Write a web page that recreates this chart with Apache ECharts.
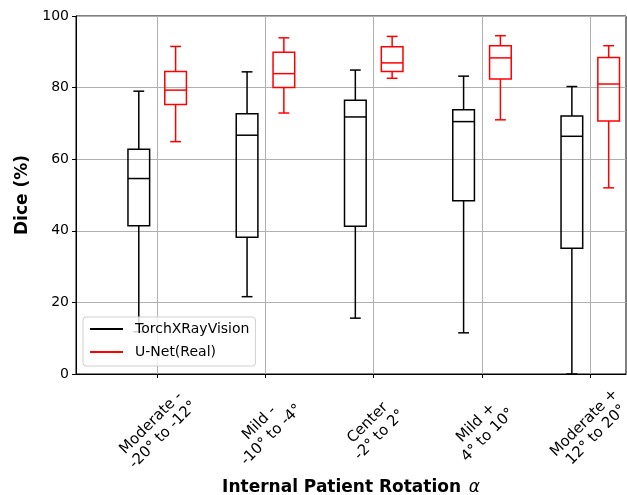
<!DOCTYPE html>
<html><head><meta charset="utf-8">
<script src="https://cdn.jsdelivr.net/npm/echarts@6/dist/echarts.min.js"></script>
<style>html,body{margin:0;padding:0;background:#fff}#c{width:627px;height:495px}</style>
</head><body><div id="c"></div>
<script>
const categories = ['Moderate -\n-20° to -12°', 'Mild -\n-10° to -4°', 'Center\n-2° to 2°', 'Mild +\n4° to 10°', 'Moderate +\n12° to 20°'];
// each row: [min, q1, median, q3, max]
const torchXRayVision = [
  [11.8, 41.4, 54.6, 62.8, 79.0],
  [21.6, 38.2, 66.7, 72.7, 84.4],
  [15.6, 41.3, 71.8, 76.5, 84.9],
  [11.5, 48.4, 70.5, 73.8, 83.2],
  [0.0, 35.1, 66.4, 72.1, 80.3]
];
const unetReal = [
  [64.9, 75.3, 79.3, 84.5, 91.5],
  [72.9, 80.0, 83.9, 89.9, 93.9],
  [82.6, 84.5, 86.9, 91.4, 94.3],
  [71.0, 82.4, 88.3, 91.7, 94.5],
  [52.0, 70.7, 81.0, 88.4, 91.7]
];
const yTicks = [0, 20, 40, 60, 80, 100];
const seriesNames = ['TorchXRayVision', 'U-Net(Real)'];

const FONT = 'DejaVu Sans';
const catIdx = categories.map((c, i) => i);

function makeRender(offset, color) {
  return function (params, api) {
    const x = api.value(0) + offset;
    const mn = api.value(1), q1 = api.value(2), md = api.value(3), q3 = api.value(4), mx = api.value(5);
    const p = (xx, yy) => api.coord([xx, yy]);
    const hw = 0.1, cw = 0.05;
    const style = { stroke: color, lineWidth: 1.5, fill: null };
    const l = (a, b) => ({ type: 'line', shape: { x1: a[0], y1: a[1], x2: b[0], y2: b[1] }, style: style });
    const tl = p(x - hw, q3), br = p(x + hw, q1);
    return {
      type: 'group', children: [
        l(p(x, q1), p(x, mn)), l(p(x, q3), p(x, mx)),
        l(p(x - cw, mn), p(x + cw, mn)), l(p(x - cw, mx), p(x + cw, mx)),
        { type: 'rect', shape: { x: tl[0], y: tl[1], width: br[0] - tl[0], height: br[1] - tl[1] }, style: { stroke: color, lineWidth: 1.5, fill: null } },
        l(p(x - hw, md), p(x + hw, md))
      ]
    };
  };
}

const chart = echarts.init(document.getElementById('c'), null, { renderer: 'canvas' });
chart.setOption({
  animation: false,
  backgroundColor: '#fff',
  textStyle: { fontFamily: FONT },
  grid: { left: 76, right: 1, top: 16, bottom: 121, show: true, borderColor: '#000', borderWidth: 1, containLabel: false, outerBoundsMode: 'none' },
  legend: {
    data: seriesNames,
    orient: 'vertical',
    left: 83, top: 317,
    icon: 'rect', itemWidth: 33, itemHeight: 2, itemGap: 7,
    padding: [4, 6, 6, 7],
    backgroundColor: 'rgba(255,255,255,0.8)',
    borderColor: '#d0d0d0', borderWidth: 1, borderRadius: 3,
    textStyle: { fontFamily: FONT, fontSize: 14, color: '#000', lineHeight: 16, padding: [0, 0, 0, 7] }
  },
  xAxis: {
    type: 'value', min: -0.75, max: 4.33,
    axisLine: { show: true, onZero: false, lineStyle: { color: '#000', width: 1 } },
    axisTick: { show: true, customValues: catIdx, length: 4, lineStyle: { color: '#000' } },
    axisLabel: {
      customValues: catIdx,
      formatter: v => categories[Math.round(v)],
      rotate: 45, align: 'center', verticalAlign: 'middle', margin: 55,
      fontFamily: FONT, fontSize: 15, lineHeight: 17, color: '#000'
    },
    splitLine: { show: true, lineStyle: { color: '#b0b0b0', width: 1 } },
    name: '{b|Internal Patient Rotation}  {a|α}',
    nameLocation: 'middle', nameGap: 105,
    nameTextStyle: {
      rich: {
        b: { fontFamily: FONT, fontWeight: 'bold', fontSize: 17, color: '#000' },
        a: { fontFamily: FONT, fontStyle: 'italic', fontSize: 17, color: '#000' }
      }
    }
  },
  yAxis: {
    type: 'value', min: yTicks[0], max: yTicks[yTicks.length - 1], interval: yTicks[1] - yTicks[0],
    axisLine: { show: true, onZero: false, lineStyle: { color: '#000', width: 1 } },
    axisTick: { show: true, length: 4, lineStyle: { color: '#000' } },
    axisLabel: { fontFamily: FONT, fontSize: 14, color: '#000', margin: 7 },
    splitLine: { show: true, lineStyle: { color: '#b0b0b0', width: 1 } },
    name: 'Dice (%)', nameLocation: 'middle', nameGap: 45,
    nameTextStyle: { fontFamily: FONT, fontWeight: 'bold', fontSize: 17, color: '#000' }
  },
  series: [
    {
      name: seriesNames[0], type: 'custom', itemStyle: { color: '#000' },
      renderItem: makeRender(-0.17, '#000'),
      encode: { x: 0, y: [1, 2, 3, 4, 5] },
      data: torchXRayVision.map((d, i) => [i].concat(d)), z: 3
    },
    {
      name: seriesNames[1], type: 'custom', itemStyle: { color: '#ff0000' },
      renderItem: makeRender(0.17, '#ff0000'),
      encode: { x: 0, y: [1, 2, 3, 4, 5] },
      data: unetReal.map((d, i) => [i].concat(d)), z: 3
    }
  ]
});
</script></body></html>
